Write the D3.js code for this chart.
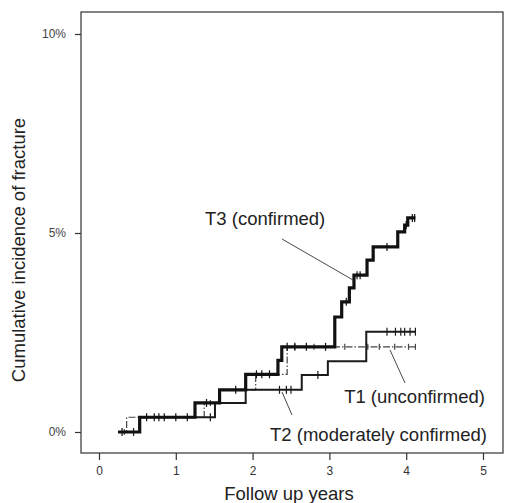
<!DOCTYPE html>
<html>
<head>
<meta charset="utf-8">
<script src="https://cdn.jsdelivr.net/npm/d3@7"></script>
<style>
  html, body { margin: 0; padding: 0; background: #fff; }
  svg { display: block; }
  text { font-family: "Liberation Sans", Arial, sans-serif; }
</style>
</head>
<body>
<svg id="chart" width="505" height="503"></svg>
<script>
// ---- Data (years, cumulative incidence %) ----
const xTicks = [0, 1, 2, 3, 4, 5];
const yTicks = [0, 5, 10];
const yTickLabels = ["0%", "5%", "10%"];

// step change points: [time, cumulative %]
const t3Steps = [[0.25, 0], [0.53, 0.37], [1.25, 0.73], [1.57, 1.06], [1.91, 1.45], [2.33, 1.8], [2.38, 2.14],
                 [3.07, 2.89], [3.16, 3.27], [3.26, 3.62], [3.32, 3.94], [3.49, 4.32], [3.57, 4.65],
                 [3.89, 5.03], [3.98, 5.2], [4.02, 5.38], [4.12, 5.38]];
const t2Steps = [[0.25, 0], [0.53, 0.37], [1.51, 0.73], [1.91, 1.06], [2.64, 1.43], [2.98, 1.78], [3.48, 2.52], [4.12, 2.52]];
const t1Steps = [[0.25, 0], [0.36, 0.37], [1.37, 0.73], [1.57, 1.06], [2.04, 1.45], [2.45, 2.14], [4.12, 2.14]];

// censoring times
const t3Censor = [0.3, 0.62, 0.72, 0.78, 0.85, 1.0, 1.15, 1.4, 1.78, 2.05, 2.12, 2.22, 2.45, 2.55, 2.7, 2.95, 3.22, 3.36, 3.4, 3.75, 4.0, 4.08, 4.11];
const t2Censor = [0.45, 1.45, 2.35, 2.44, 2.5, 2.85, 3.75, 3.86, 3.93, 3.98, 4.05, 4.12];
const t1Censor = [0.33, 1.45, 2.55, 2.8, 3.2, 3.5, 3.65, 3.85, 4.03, 4.12];

const seriesNames = ["T1 (unconfirmed)", "T2 (moderately confirmed)", "T3 (confirmed)"];

// ---- Layout ----
const svg = d3.select("#chart");
const box = {left: 81, top: 12, right: 503, bottom: 453};
const x = d3.scaleLinear().domain([0, 5]).range([99, 483]);
const y = d3.scaleLinear().domain([0, 10]).range([432, 34]);

// frame
svg.append("rect")
  .attr("x", box.left).attr("y", box.top)
  .attr("width", box.right - box.left).attr("height", box.bottom - box.top)
  .attr("fill", "none").attr("stroke", "#333").attr("stroke-width", 1.2);

// x axis
const xAxis = d3.axisBottom(x).tickValues(xTicks).tickSize(7).tickSizeOuter(0).tickPadding(6)
  .tickFormat(d3.format("d"));
const gx = svg.append("g").attr("transform", `translate(0,${box.bottom})`).call(xAxis);
gx.select(".domain").remove();
gx.selectAll("line").attr("stroke", "#333").attr("stroke-width", 1.2);
gx.selectAll("text").attr("font-size", 12).attr("fill", "#333")
  .attr("font-family", "Liberation Sans, Arial, sans-serif");

// y axis
const yAxis = d3.axisLeft(y).tickValues(yTicks).tickSize(6).tickSizeOuter(0).tickPadding(9)
  .tickFormat((d, i) => yTickLabels[i]);
const gy = svg.append("g").attr("transform", `translate(${box.left},0)`).call(yAxis);
gy.select(".domain").remove();
gy.selectAll("line").attr("stroke", "#333").attr("stroke-width", 1.2);
gy.selectAll("text").attr("font-size", 12).attr("fill", "#444")
  .attr("font-family", "Liberation Sans, Arial, sans-serif");

// axis titles
svg.append("text").attr("x", 289).attr("y", 500).attr("text-anchor", "middle")
  .attr("font-size", 18.5).attr("fill", "#222").text("Follow up years");
svg.append("text").attr("transform", "translate(25,250) rotate(-90)").attr("text-anchor", "middle")
  .attr("font-size", 18.5).attr("fill", "#222").text("Cumulative incidence of fracture");

// step curves
const line = d3.line().x(d => x(d[0])).y(d => y(d[1])).curve(d3.curveStepAfter);
function stepValue(steps, t) {
  let v = 0;
  for (const s of steps) if (s[0] <= t) v = s[1];
  return v;
}
const series = [
  {steps: t1Steps, censor: t1Censor, w: 1.2, color: "#444", dash: "7,2,1.5,2", tick: 3},
  {steps: t2Steps, censor: t2Censor, w: 2.0, color: "#1a1a1a", dash: null, tick: 4},
  {steps: t3Steps, censor: t3Censor, w: 3.2, color: "#111", dash: null, tick: 4}
];
series.forEach(s => {
  svg.append("path").datum(s.steps).attr("d", line)
    .attr("fill", "none").attr("stroke", s.color).attr("stroke-width", s.w)
    .attr("stroke-dasharray", s.dash);
  svg.append("g").selectAll("line").data(s.censor).join("line")
    .attr("x1", d => x(d)).attr("x2", d => x(d))
    .attr("y1", d => y(stepValue(s.steps, d)) - s.tick)
    .attr("y2", d => y(stepValue(s.steps, d)) + s.tick)
    .attr("stroke", s.color).attr("stroke-width", 1.2);
});

// labels with pointers
const labelFont = 18.5;
svg.append("text").attr("x", 205).attr("y", 225).attr("font-size", labelFont).attr("fill", "#222").text(seriesNames[2]);
svg.append("line").attr("x1", 282).attr("y1", 239).attr("x2", 353).attr("y2", 280)
  .attr("stroke", "#333").attr("stroke-width", 0.9);

svg.append("text").attr("x", 485).attr("y", 403).attr("text-anchor", "end")
  .attr("font-size", labelFont).attr("fill", "#222").text(seriesNames[0]);
svg.append("line").attr("x1", 405).attr("y1", 383).attr("x2", 390).attr("y2", 350)
  .attr("stroke", "#333").attr("stroke-width", 0.9);

svg.append("text").attr("x", 487).attr("y", 441).attr("text-anchor", "end")
  .attr("font-size", labelFont).attr("fill", "#222").text(seriesNames[1]);
svg.append("line").attr("x1", 292).attr("y1", 415).attr("x2", 282).attr("y2", 392)
  .attr("stroke", "#333").attr("stroke-width", 0.9);
</script>
</body>
</html>
